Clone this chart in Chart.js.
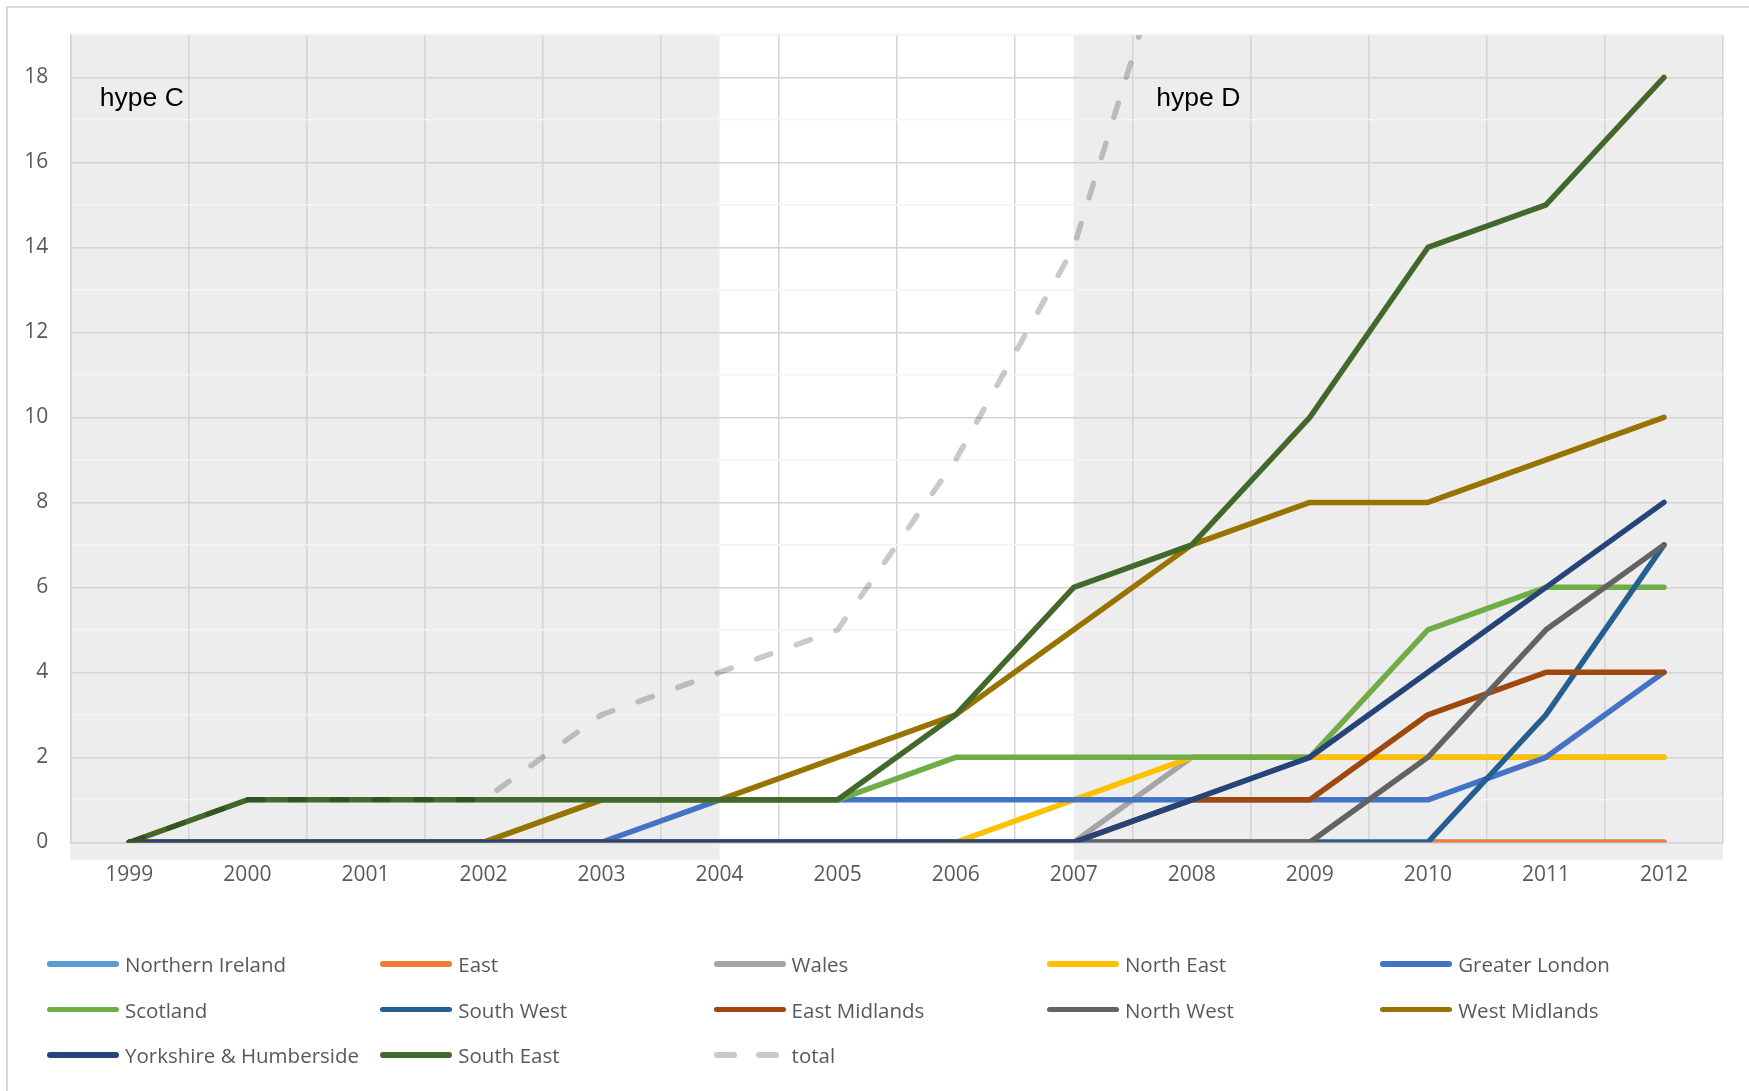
<!DOCTYPE html>
<html><head><meta charset="utf-8">
<script src="https://cdn.jsdelivr.net/npm/chart.js@4.4.1/dist/chart.umd.min.js"></script>
<style>
html,body{margin:0;padding:0;background:#fff;overflow:hidden;}
body{width:1749px;height:1091px;position:relative;font-family:'Open Sans',sans-serif;}
#frame{position:absolute;left:6px;top:6px;width:1800px;height:1200px;border:2px solid #D9D9D9;box-sizing:border-box;}
#c{position:absolute;left:0;top:0;}
#legend{position:absolute;left:47px;top:941px;display:grid;grid-template-columns:repeat(5,333.3px);grid-auto-rows:45.7px;}
.item{display:flex;align-items:center;font-size:20.5px;color:#595959;white-space:nowrap;}
.sw{width:72px;height:5.5px;margin-right:6px;position:relative;flex:none;}
.sw span{position:absolute;top:0;height:5.5px;border-radius:3px;}
</style></head>
<body>
<div id="frame"></div>
<canvas id="c" width="1749" height="1091"></canvas>
<div id="legend"></div>
<script>
// ---- data ----
const years = ['1999','2000','2001','2002','2003','2004','2005','2006','2007','2008','2009','2010','2011','2012'];
const northernIreland = [0,0,0,0,0,0,0,0,0,0,0,0,0,0];
const east            = [0,0,0,0,0,0,0,0,0,0,0,0,0,0];
const wales           = [0,0,0,0,0,0,0,0,0,2,2,2,2,2];
const northEast       = [0,0,0,0,0,0,0,0,1,2,2,2,2,2];
const greaterLondon   = [0,0,0,0,0,1,1,1,1,1,1,1,2,4];
const scotland        = [0,0,0,0,1,1,1,2,2,2,2,5,6,6];
const southWest       = [0,0,0,0,0,0,0,0,0,0,0,0,3,7];
const eastMidlands    = [0,0,0,0,0,0,0,0,0,1,1,3,4,4];
const northWest       = [0,0,0,0,0,0,0,0,0,0,0,2,5,7];
const westMidlands    = [0,0,0,0,1,1,2,3,5,7,8,8,9,10];
const yorkshire       = [0,0,0,0,0,0,0,0,0,1,2,4,6,8];
const southEast       = [0,1,1,1,1,1,1,3,6,7,10,14,15,18];
const total           = [0,1,1,1,3,4,5,9,14,23,28,41,54,68];
const yTickValues     = [0,1,2,3,4,5,6,7,8,9,10,11,12,13,14,15,16,17,18,19];
const seriesNames = ['Northern Ireland','East','Wales','North East','Greater London','Scotland','South West','East Midlands','North West','West Midlands','Yorkshire & Humberside','South East','total'];
const seriesData  = [northernIreland,east,wales,northEast,greaterLondon,scotland,southWest,eastMidlands,northWest,westMidlands,yorkshire,southEast,total];
const seriesColors = ['#5B9BD5','#ED7D31','#A5A5A5','#FFC000','#4472C4','#70AD47','#255E91','#9E480E','#636363','#997300','#264478','#43682B','#C9C9C9'];
// shaded periods (by year label) and annotations
const shadedPeriods = [{from:null, to:'2004'}, {from:'2007', to:null}];
const periodLabels = [{text:'hype C', x:-0.25, y:17.5}, {text:'hype D', x:8.7, y:17.5}];

Chart.defaults.font.family = "'Open Sans', sans-serif";
Chart.defaults.color = '#595959';

const N = seriesNames.length;
const datasets = seriesNames.map((name, i) => ({
  label: name,
  data: seriesData[i],
  borderColor: seriesColors[i],
  backgroundColor: seriesColors[i],
  borderWidth: 5.5,
  pointRadius: 0,
  pointHoverRadius: 0,
  tension: 0,
  fill: false,
  borderCapStyle: 'round',
  borderJoinStyle: 'round',
  borderDash: name === 'total' ? [15, 27] : [],
  order: N - i
}));

const shadePlugin = {
  id: 'shade',
  beforeDraw(chart) {
    const {ctx, chartArea, scales: {x, y}} = chart;
    const bottom = y.getPixelForValue(-0.42);
    ctx.save();
    ctx.fillStyle = '#EDEDED';
    shadedPeriods.forEach(p => {
      const l = p.from === null ? chartArea.left : x.getPixelForValue(years.indexOf(p.from));
      const r = p.to === null ? chartArea.right : x.getPixelForValue(years.indexOf(p.to));
      ctx.fillRect(l, chartArea.top, r - l, bottom - chartArea.top);
    });
    ctx.restore();
  },
  beforeDatasetDraw(chart, args) {
    if (args.meta.label === 'total') {
      chart.ctx.save();
      chart.ctx.globalCompositeOperation = 'multiply';
    }
  },
  afterDatasetDraw(chart, args) {
    if (args.meta.label === 'total') chart.ctx.restore();
  },
  afterDatasetsDraw(chart) {
    const {ctx, scales: {x, y}} = chart;
    ctx.save();
    ctx.fillStyle = '#000';
    ctx.font = "26.5px 'Liberation Sans', Arial, sans-serif";
    ctx.textAlign = 'left';
    ctx.textBaseline = 'middle';
    periodLabels.forEach(a => ctx.fillText(a.text, x.getPixelForValue(a.x), y.getPixelForValue(a.y)));
    ctx.restore();
  }
};

const chart = new Chart(document.getElementById('c'), {
  type: 'line',
  data: { labels: years, datasets },
  options: {
    responsive: false,
    animation: false,
    events: [],
    layout: { padding: { left: 0, top: 35, right: 26, bottom: 188.7 } },
    plugins: { legend: { display: false }, tooltip: { enabled: false } },
    scales: {
      x: {
        offset: true,
        grid: { offset: true, color: '#D4D4D4', lineWidth: 1.5, drawTicks: false },
        border: { color: '#D4D4D4', width: 1.5 },
        ticks: { font: { size: 21 }, color: '#595959', padding: 20, maxRotation: 0, autoSkip: false },
        afterFit(s) { s.height = 60; }
      },
      y: {
        min: 0, max: 19,
        afterBuildTicks(s) { s.ticks = yTickValues.map(v => ({ value: v })); },
        grid: {
          drawTicks: false, lineWidth: 1.5,
          color: c => (c.tick && c.tick.value % 2 === 0) ? '#D4D4D4' : '#F3F3F3'
        },
        border: { color: '#D4D4D4', width: 1.5 },
        ticks: {
          font: { size: 21 }, color: '#595959', padding: 22, autoSkip: false,
          callback: v => (v % 2 === 0 ? String(v) : '')
        },
        afterFit(s) { s.width = 70.3; }
      }
    }
  },
  plugins: [shadePlugin]
});

// HTML legend built from the chart's datasets
const legend = document.getElementById('legend');
chart.data.datasets.forEach(ds => {
  const item = document.createElement('div');
  item.className = 'item';
  const sw = document.createElement('div');
  sw.className = 'sw';
  if (ds.borderDash && ds.borderDash.length) {
    [[0,23],[42,23]].forEach(([l,w]) => {
      const s = document.createElement('span');
      s.style.left = l + 'px'; s.style.width = w + 'px'; s.style.background = ds.borderColor;
      sw.appendChild(s);
    });
  } else {
    const s = document.createElement('span');
    s.style.left = '0px'; s.style.width = '72px'; s.style.background = ds.borderColor;
    sw.appendChild(s);
  }
  const t = document.createElement('span');
  t.textContent = ds.label;
  item.appendChild(sw); item.appendChild(t);
  legend.appendChild(item);
});
</script>
</body></html>
